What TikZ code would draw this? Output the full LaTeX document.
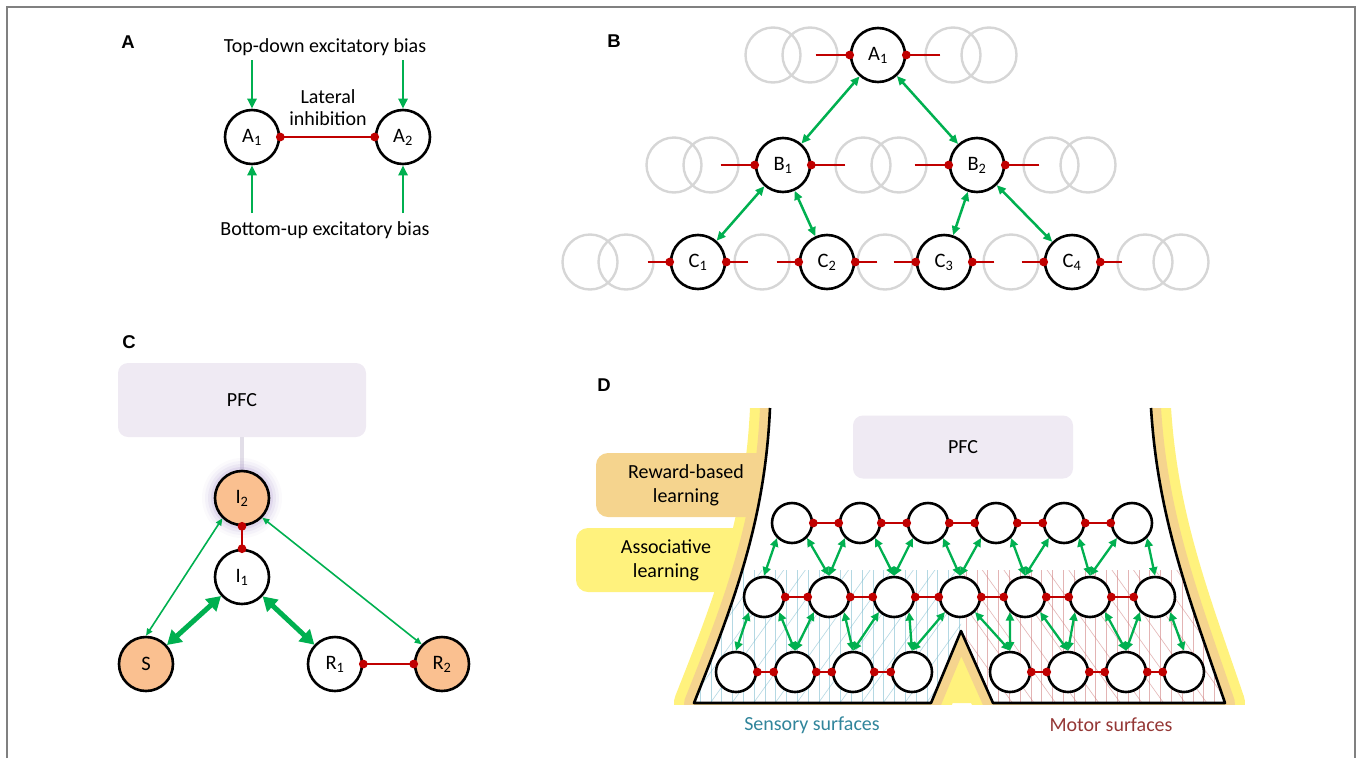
\documentclass[tikz,border=0pt]{standalone}
\usepackage{fontspec}
\setmainfont{Carlito}
\newfontfamily\panelfont{Liberation Sans}
\usetikzlibrary{arrows.meta,calc}
\definecolor{excgreen}{RGB}{0,176,80}
\definecolor{inhred}{RGB}{192,0,0}
\definecolor{peach}{RGB}{250,192,144}
\definecolor{pfcfill}{RGB}{239,234,243}
\definecolor{pfcline}{RGB}{226,222,232}
\definecolor{ghostgray}{RGB}{214,214,214}
\definecolor{tanfill}{RGB}{245,212,142}
\definecolor{yelfill}{RGB}{255,242,125}
\definecolor{senscol}{RGB}{49,133,155}
\definecolor{motorcol}{RGB}{149,55,53}
\definecolor{senshatch}{RGB}{120,185,205}
\definecolor{motorhatch}{RGB}{205,120,120}
\definecolor{framegray}{RGB}{128,128,128}
\definecolor{glowcol}{RGB}{170,150,205}
\begin{document}
\begin{tikzpicture}
	[x=1pt,y=-1pt,
	mynode/.style={circle,draw,line width=2.6pt,fill=white,minimum size=54pt,inner sep=0pt,font=\fontsize{20.5}{22}\selectfont},
	hot/.style={fill=peach},
	cell/.style={circle,draw,line width=2.6pt,fill=white,minimum size=40pt,inner sep=0pt},
	ghost/.style={draw=ghostgray,line width=2.4pt},
	txt/.style={font=\fontsize{20}{22}\selectfont,align=center,inner sep=0pt},
	panel/.style={font=\panelfont\bfseries\fontsize{18.5}{18.5}\selectfont},
	pfc/.style={rectangle,rounded corners=10pt,fill=pfcfill,font=\fontsize{20}{22}\selectfont},
	lbox/.style={rectangle,rounded corners=12pt,minimum width=180pt,minimum height=64pt,align=center,font=\fontsize{20}{24}\selectfont},
	inhib/.style={draw=inhred,line width=2.5pt,shorten <=-4.3pt,shorten >=-4.3pt,{Circle[length=8.6pt]}-{Circle[length=8.6pt]}},
	stub/.style={draw=inhred,line width=2.5pt,shorten >=-4.3pt,-{Circle[length=8.6pt]}},
	bias/.style={draw=excgreen,line width=2.7pt,-{Triangle[length=10pt,width=9pt]}},
	link/.style={draw=excgreen,line width=2.5pt,{Triangle[length=9pt,width=8pt]}-{Triangle[length=9pt,width=8pt]}},
	wire/.style={draw=excgreen,line width=2.3pt,{Triangle[length=8.5pt,width=8pt]}-{Triangle[length=8.5pt,width=8pt]}},
	faint/.style={draw=excgreen,line width=1.6pt,{Triangle[length=7pt,width=6pt]}-{Triangle[length=7pt,width=6pt]}},
	strong/.style={draw=excgreen,line width=5pt,{Triangle[length=14pt,width=16pt]}-{Triangle[length=14pt,width=16pt]}}]
	\useasboundingbox (0,0) rectangle (1357,758);
	\draw[framegray,line width=2pt] (6.5,758) -- (6.5,7) -- (1355,7) -- (1355,758);

	% A
	\node[panel] (labA) at (128,42) {A};
	\node[txt] (tdown) at (325,47) {Top-down excitatory bias};
	\node[txt] (bup) at (325,230) {Bottom-up excitatory bias};
	\node[txt] (latinh) at (328,108) {Lateral\\inhibition};
	\node[mynode,name=A1] at (252,137) {A\textsubscript{1}};
	\node[mynode,name=A2] at (403,137) {A\textsubscript{2}};
	\coordinate (a1top) at (252,60);
	\coordinate (a2top) at (403,60);
	\coordinate (a1bot) at (252,213);
	\coordinate (a2bot) at (403,213);
	\draw[bias] (a1top) -- (A1);
	\draw[bias] (a2top) -- (A2);
	\draw[bias] (a1bot) -- (A1);
	\draw[bias] (a2bot) -- (A2);
	\draw[inhib] (A1) -- (A2);

	% B
	\node[panel] (labB) at (614,41) {B};
	\foreach \x/\y in {773/55,810/55,953/55,989/55,674/165,711/165,863/165,899/165,1051/165,1088/165,590/262,626/262,762/262,885/262,1011/262,1145/262,1181/262}
	{
		\draw[ghost] (\x,\y) circle (27.5);
	}
	\node[mynode,name=hA] at (878,55) {A\textsubscript{1}};
	\node[mynode,name=hB1] at (783,165) {B\textsubscript{1}};
	\node[mynode,name=hB2] at (977,165) {B\textsubscript{2}};
	\foreach \x [count=\i] in {698,827,944,1072}
	{
		\node[mynode,name=hC\i] at (\x,262) {C\textsubscript{\i}};
		\draw[stub] ($(hC\i.west)+(-22,0)$) -- (hC\i.west);
		\draw[stub] ($(hC\i.east)+(22,0)$) -- (hC\i.east);
	}
	\foreach \n in {hA,hB1,hB2}
	{
		\draw[stub] ($(\n.west)+(-34,0)$) -- (\n.west);
		\draw[stub] ($(\n.east)+(34,0)$) -- (\n.east);
	}
	\draw[link] (hA) -- (hB1);
	\draw[link] (hA) -- (hB2);
	\draw[link] (hB1) -- (hC1);
	\draw[link] (hB1) -- (hC2);
	\draw[link] (hB2) -- (hC3);
	\draw[link] (hB2) -- (hC4);

	% C
	\node[panel] (labC) at (129,342) {C};
	\node[pfc,minimum width=248pt,minimum height=74pt] (pfcC) at (242,400) {PFC};
	\coordinate (i2c) at (242,498);
	\draw[pfcline,line width=4pt] (pfcC.south) -- (i2c);
	\foreach \r/\o in {40/0.05,37/0.08,34/0.12,31/0.18}
	{
		\fill[glowcol,opacity=\o] (i2c) circle (\r);
	}
	\node[mynode,hot,name=I2] at (i2c) {I\textsubscript{2}};
	\node[mynode,name=I1] at (242,577) {I\textsubscript{1}};
	\node[mynode,hot,name=S] at (146,664) {S};
	\node[mynode,name=R1] at (335,664) {R\textsubscript{1}};
	\node[mynode,hot,name=R2] at (442,664) {R\textsubscript{2}};
	\draw[inhib] (I2) -- (I1);
	\draw[inhib] (R1) -- (R2);
	\draw[faint] (I2.226) -- (S.north);
	\draw[faint] (I2.316) -- (R2.136);
	\draw[strong] (I1) -- (S);
	\draw[strong] (I1) -- (R1);

	% D
	\node[panel] (labD) at (604,385) {D};
	\coordinate (ltop) at (770,408);
	\coordinate (lbot) at (694,703);
	\coordinate (nleft) at (931,703);
	\coordinate (peak) at (961,631);
	\coordinate (nright) at (993,703);
	\coordinate (rbot) at (1225,703);
	\coordinate (rtop) at (1151,408);
	\begin{scope}
		\clip (560,408) rectangle (1300,704.5);
		\draw[yelfill,line width=40pt,line join=round] (ltop) .. controls (765,520) and (735,600) .. (lbot) -- (nleft) -- (peak) -- (nright) -- (rbot) .. controls (1190,600) and (1158,520) .. (rtop);
		\fill[yelfill] (nleft) -- (peak) -- (nright) -- cycle;
	\end{scope}
	\node[lbox,fill=yelfill] (assoc) at (666,560) {Associative\\learning};
	\begin{scope}
		\clip (560,408) rectangle (1300,704.5);
		\draw[tanfill,line width=20pt,line join=round] (ltop) .. controls (765,520) and (735,600) .. (lbot) -- (nleft) -- (peak) -- (nright) -- (rbot) .. controls (1190,600) and (1158,520) .. (rtop);
	\end{scope}
	\node[lbox,fill=tanfill] (reward) at (686,485) {Reward-based\\learning};
	\fill[white] (ltop) .. controls (765,520) and (735,600) .. (lbot) -- (nleft) -- (peak) -- (nright) -- (rbot) .. controls (1190,600) and (1158,520) .. (rtop) -- cycle;
	\begin{scope}
		\clip (ltop) .. controls (765,520) and (735,600) .. (lbot) -- (nleft) -- (peak) -- (nright) -- (rbot) .. controls (1190,600) and (1158,520) .. (rtop) -- cycle;
		\clip (600,570) rectangle (961,704);
		\foreach \x in {700,710.8,...,960}
		{
			\draw[senshatch,line width=0.6pt,opacity=0.55] (\x,570) -- (\x,704);
		}
		\foreach \x in {580,601.6,...,960}
		{
			\draw[senshatch,line width=0.6pt,opacity=0.55] (\x,704) -- ++(100,-140);
		}
	\end{scope}
	\begin{scope}
		\clip (ltop) .. controls (765,520) and (735,600) .. (lbot) -- (nleft) -- (peak) -- (nright) -- (rbot) .. controls (1190,600) and (1158,520) .. (rtop) -- cycle;
		\clip (961,570) rectangle (1300,704);
		\foreach \x in {966,976.8,...,1240}
		{
			\draw[motorhatch,line width=0.6pt,opacity=0.55] (\x,570) -- (\x,704);
		}
		\foreach \x in {870,891.6,...,1240}
		{
			\draw[motorhatch,line width=0.6pt,opacity=0.55] (\x,564) -- ++(100,140);
		}
	\end{scope}
	\draw[line width=2.6pt,line join=round] (ltop) .. controls (765,520) and (735,600) .. (lbot) -- (nleft) -- (peak) -- (nright) -- (rbot) .. controls (1190,600) and (1158,520) .. (rtop);
	\node[pfc,minimum width=220pt,minimum height=63pt] (pfcD) at (963,447) {PFC};
	\foreach \x [count=\i] in {792,860,928,996,1064,1132}
	{
		\node[cell,name=t\i] at (\x,523) {};
	}
	\foreach \x [count=\i] in {764,829,894,960,1025,1090,1155}
	{
		\node[cell,name=m\i] at (\x,597) {};
	}
	\foreach \x [count=\i] in {736,795,853,912}
	{
		\node[cell,name=l\i] at (\x,672) {};
	}
	\foreach \x [count=\i] in {1010,1068,1126,1184}
	{
		\node[cell,name=r\i] at (\x,672) {};
	}
	\foreach \i/\j in {1/2,2/3,3/4,4/5,5/6}
	{
		\draw[inhib] (t\i) -- (t\j);
	}
	\foreach \i/\j in {1/2,2/3,3/4,4/5,5/6,6/7}
	{
		\draw[inhib] (m\i) -- (m\j);
	}
	\foreach \i/\j in {1/2,2/3,3/4}
	{
		\draw[inhib] (l\i) -- (l\j);
		\draw[inhib] (r\i) -- (r\j);
	}
	\foreach \i/\j in {1/2,2/3,3/4,4/5,5/6,6/7}
	{
		\draw[wire] (t\i.225) -- (m\i.north);
		\draw[wire] (t\i.315) -- (m\j.north);
	}
	\foreach \i in {1,...,4}
	{
		\draw[wire] (m\i.225) -- (l\i.north);
	}
	\foreach \i/\j in {1/2,2/3,3/4}
	{
		\draw[wire] (m\i.315) -- (l\j.north);
	}
	\draw[wire] (m4.315) -- (r1.north);
	\foreach \i/\a/\b in {5/1/2,6/2/3,7/3/4}
	{
		\draw[wire] (m\i.225) -- (r\a.north);
		\draw[wire] (m\i.315) -- (r\b.north);
	}
	\node[txt,text=senscol] (sens) at (812,725) {Sensory surfaces};
	\node[txt,text=motorcol] (motor) at (1111,725) {Motor surfaces};
\end{tikzpicture}
\end{document}
